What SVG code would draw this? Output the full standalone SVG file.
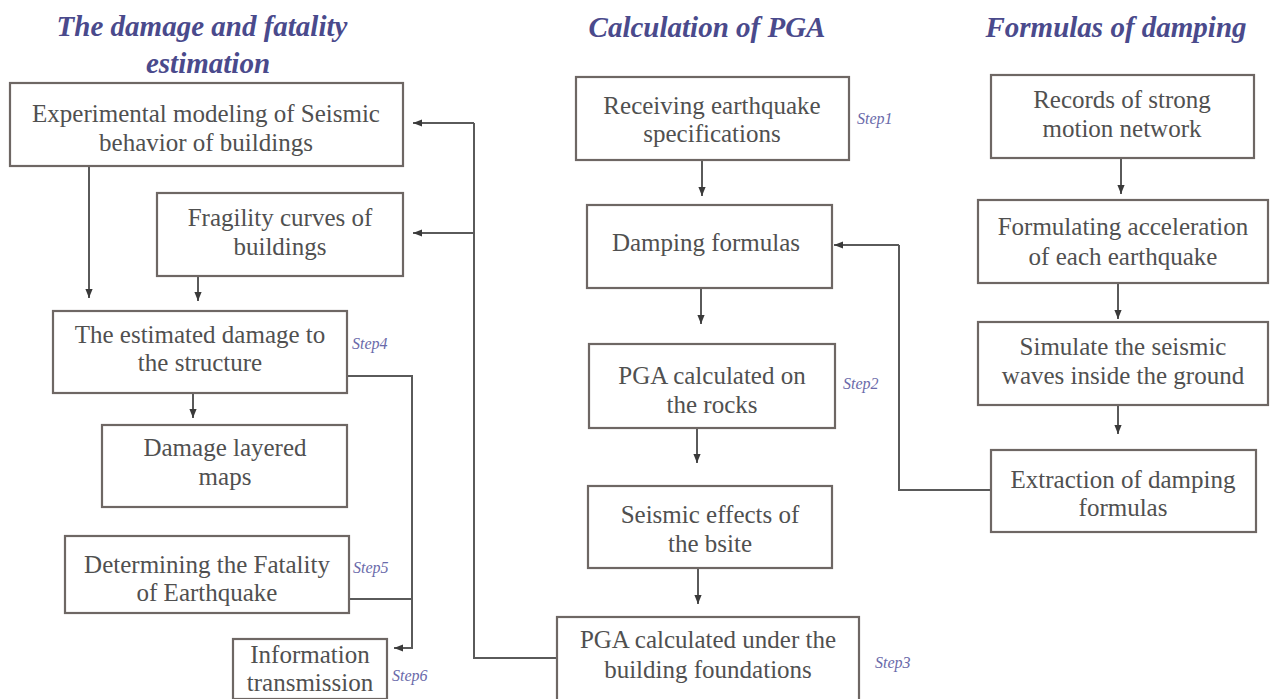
<svg xmlns="http://www.w3.org/2000/svg" width="1275" height="699" viewBox="0 0 1275 699">
<defs>
<marker id="ah" viewBox="0 0 10 10" refX="10" refY="5" markerWidth="9" markerHeight="9" markerUnits="userSpaceOnUse" orient="auto">
<path d="M0,1 L10,5 L0,9 Z" fill="#3a3a3a"/>
</marker>
</defs>
<rect width="1275" height="699" fill="#fff"/>

<g id="titles" style="font-family:'Liberation Serif','Times New Roman',serif;font-size:29px;font-weight:bold;font-style:italic" fill="#4a4a8c" text-anchor="middle">
<text x="202" y="36" style="font-family:'Liberation Serif',serif">The damage and fatality</text>
<text x="208" y="73" style="font-family:'Liberation Serif',serif">estimation</text>
<text x="707" y="37" style="font-family:'Liberation Serif',serif">Calculation of PGA</text>
<text x="1116" y="37" style="font-family:'Liberation Serif',serif">Formulas of damping</text>
</g>

<g id="connectors" fill="none" stroke="#5a5a5a" stroke-width="2">
<line marker-end="url(#ah)" x1="89" y1="166" x2="89" y2="298"/>
<line marker-end="url(#ah)" x1="198" y1="276" x2="198" y2="301"/>
<line marker-end="url(#ah)" x1="193" y1="393" x2="193" y2="418"/>
<polyline points="347,376 412,376 412,648"/>
<polyline points="349,599 412,599"/>
<polyline marker-end="url(#ah)" points="412,640 412,648 394,648"/>
<polyline points="557,658 474,658 474,123"/>
<line marker-end="url(#ah)" x1="474" y1="123" x2="413" y2="123"/>
<line marker-end="url(#ah)" x1="474" y1="233" x2="413" y2="233"/>
<line marker-end="url(#ah)" x1="702" y1="160" x2="702" y2="196"/>
<line marker-end="url(#ah)" x1="701" y1="288" x2="701" y2="324"/>
<line marker-end="url(#ah)" x1="697" y1="428" x2="697" y2="463"/>
<line marker-end="url(#ah)" x1="698" y1="568" x2="698" y2="604"/>
<polyline points="991,490 899,490 899,245"/>
<line marker-end="url(#ah)" x1="899" y1="245" x2="834" y2="245"/>
<line marker-end="url(#ah)" x1="1121" y1="158" x2="1121" y2="194"/>
<line marker-end="url(#ah)" x1="1118" y1="283" x2="1118" y2="319"/>
<line marker-end="url(#ah)" x1="1118" y1="405" x2="1118" y2="434"/>
</g>

<g id="boxes" fill="#fff" stroke="#6e6764" stroke-width="2.2">
<rect id="n-experimental" x="10" y="83" width="393" height="83"/>
<rect id="n-fragility" x="157" y="193" width="246" height="83"/>
<rect id="n-estimated" x="53" y="311" width="294" height="82"/>
<rect id="n-layered" x="102" y="425" width="245" height="82"/>
<rect id="n-fatality" x="65" y="536" width="284" height="77"/>
<rect id="n-info" x="233" y="639" width="154" height="60"/>
<rect id="n-receiving" x="576" y="77" width="273" height="83"/>
<rect id="n-damping" x="587" y="205" width="245" height="83"/>
<rect id="n-rocks" x="589" y="344" width="246" height="84"/>
<rect id="n-site" x="588" y="486" width="244" height="82"/>
<rect id="n-foundations" x="557" y="617" width="302" height="84"/>
<rect id="n-records" x="991" y="75" width="263" height="83"/>
<rect id="n-formulating" x="978" y="200" width="290" height="83"/>
<rect id="n-simulate" x="978" y="322" width="290" height="83"/>
<rect id="n-extraction" x="991" y="450" width="265" height="82"/>
</g>

<g id="labels" style="font-family:'Liberation Serif','Times New Roman',serif;font-size:25px" fill="#505050" text-anchor="middle">
<text x="206" y="122">Experimental modeling of Seismic</text>
<text x="206" y="151">behavior of buildings</text>
<text x="280" y="226">Fragility curves of</text>
<text x="280" y="255">buildings</text>
<text x="200" y="343">The estimated damage to</text>
<text x="200" y="371">the structure</text>
<text x="225" y="456">Damage layered</text>
<text x="225" y="485">maps</text>
<text x="207" y="573">Determining the Fatality</text>
<text x="207" y="601">of Earthquake</text>
<text x="310" y="663">Information</text>
<text x="310" y="691">transmission</text>
<text x="712" y="114">Receiving earthquake</text>
<text x="712" y="142">specifications</text>
<text x="706" y="251">Damping formulas</text>
<text x="712" y="384">PGA calculated on</text>
<text x="712" y="413">the rocks</text>
<text x="710" y="523">Seismic effects of</text>
<text x="710" y="552">the bsite</text>
<text x="708" y="648">PGA calculated under the</text>
<text x="708" y="678">building foundations</text>
<text x="1122" y="108">Records of strong</text>
<text x="1122" y="137">motion network</text>
<text x="1123" y="235">Formulating acceleration</text>
<text x="1123" y="265">of each earthquake</text>
<text x="1123" y="355">Simulate the seismic</text>
<text x="1123" y="384">waves inside the ground</text>
<text x="1123" y="488">Extraction of damping</text>
<text x="1123" y="516">formulas</text>
</g>

<g id="steps" style="font-family:'Liberation Serif','Times New Roman',serif;font-size:16px;font-style:italic" fill="#6a6aaa">
<text x="352" y="349">Step4</text>
<text x="353" y="573">Step5</text>
<text x="392" y="681">Step6</text>
<text x="857" y="124">Step1</text>
<text x="843" y="389">Step2</text>
<text x="875" y="668">Step3</text>
</g>
</svg>
